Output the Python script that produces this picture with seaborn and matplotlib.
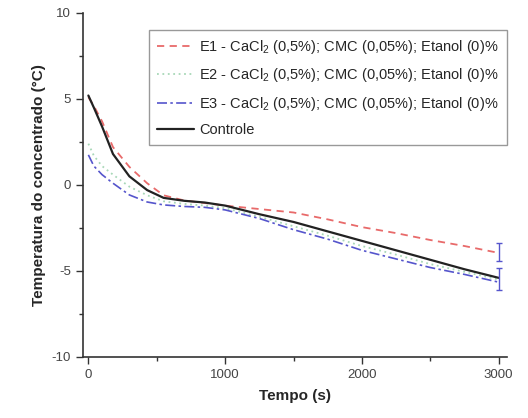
import matplotlib
matplotlib.use("Agg")
import matplotlib.pyplot as plt
import seaborn as sns
import pandas as pd
from matplotlib.ticker import MultipleLocator

sns.set_theme(style="ticks")
plt.rcParams['font.family'] = ['Liberation Sans', 'DejaVu Sans']
plt.rcParams['mathtext.default'] = 'regular'
plt.rcParams['axes.unicode_minus'] = False

time_s = [0, 40, 100, 180, 300, 430, 550, 700, 850, 1000,
          1250, 1500, 1750, 2000, 2250, 2500, 2750, 3000]
e1 = [5.1, 4.6, 3.7, 2.2, 1.05, 0.1, -0.6, -0.9, -1.05, -1.2,
      -1.4, -1.6, -2.0, -2.45, -2.8, -3.2, -3.55, -3.95]
e2 = [2.4, 1.7, 1.1, 0.6, -0.1, -0.6, -0.95, -1.1, -1.2, -1.35,
      -1.85, -2.4, -2.95, -3.55, -4.05, -4.6, -5.05, -5.5]
e3 = [1.75, 1.1, 0.6, 0.1, -0.58, -0.99, -1.16, -1.25, -1.3, -1.45,
      -1.95, -2.6, -3.15, -3.8, -4.3, -4.8, -5.2, -5.65]
controle = [5.2, 4.5, 3.4, 1.8, 0.5, -0.3, -0.75, -0.92, -1.02, -1.2,
            -1.7, -2.15, -2.7, -3.25, -3.8, -4.35, -4.9, -5.4]
end_err_x = [3000, 3000]
end_err_y = [-3.9, -5.45]
end_err = [0.5, 0.65]

labels = ["E1 - CaCl$_2$ (0,5%); CMC (0,05%); Etanol (0)%",
          "E2 - CaCl$_2$ (0,5%); CMC (0,05%); Etanol (0)%",
          "E3 - CaCl$_2$ (0,5%); CMC (0,05%); Etanol (0)%",
          "Controle"]
series = [e1, e2, e3, controle]
colors = ["#e86a6a", "#a8d8b8", "#5555cc", "#222222"]
styles = [(0, (4, 3)), (0, (1, 2)), (0, (6, 2, 1.5, 2)), "-"]
widths = [1.3, 1.3, 1.2, 1.6]

fig = plt.figure(figsize=(5.28, 4.18), dpi=100)
ax = fig.add_axes([0.157, 0.146, 0.803, 0.823])

for lab, ys, c, ls, lw in zip(labels, series, colors, styles, widths):
    df = pd.DataFrame({"t": time_s, "v": ys})
    sns.lineplot(data=df, x="t", y="v", ax=ax, color=c, linestyle=ls, linewidth=lw,
                 label=lab, estimator=None)

ax.errorbar(end_err_x, end_err_y, yerr=end_err, fmt='none', ecolor="#5555cc",
            elinewidth=1, capsize=2.5)

ax.set_xlim(-40, 3060)
ax.set_ylim(-10, 10)
ax.xaxis.set_major_locator(MultipleLocator(1000))
ax.xaxis.set_minor_locator(MultipleLocator(500))
ax.yaxis.set_major_locator(MultipleLocator(5))
ax.yaxis.set_minor_locator(MultipleLocator(2.5))
ax.tick_params(which='major', direction='out', length=5, width=1, labelsize=9.5,
               labelcolor="#444444", color="#333333")
ax.tick_params(which='minor', direction='out', length=3, width=1, color="#333333")
for s in ["top", "right"]:
    ax.spines[s].set_visible(False)
for s in ["left", "bottom"]:
    ax.spines[s].set_color("#333333")
    ax.spines[s].set_linewidth(1.2)

ax.set_xlabel("Tempo (s)", fontsize=11, fontweight='bold', labelpad=6)
ax.set_ylabel("Temperatura do concentrado (°C)", fontsize=11, fontweight='bold', labelpad=4)

leg = ax.legend(loc='upper right', bbox_to_anchor=(1.0, 0.951), borderaxespad=0,
                fontsize=10.5, frameon=True, fancybox=False, edgecolor="#999999",
                framealpha=1, handlelength=2.5, handletextpad=0.4, labelspacing=0.72,
                borderpad=0.55)
leg.get_frame().set_linewidth(1.0)

fig.savefig("out.png", dpi=100)
